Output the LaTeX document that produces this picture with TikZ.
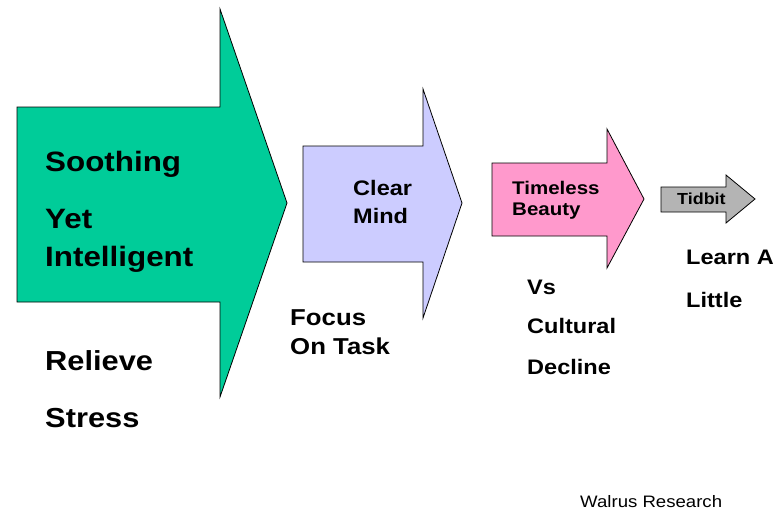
\documentclass[tikz,border=0pt]{standalone}
\usepackage{fontspec}
\setmainfont{Liberation Sans}
\definecolor{arrgreen}{RGB}{0,204,153}
\definecolor{arrlav}{RGB}{204,204,255}
\definecolor{arrpink}{RGB}{255,153,204}
\definecolor{arrgray}{RGB}{180,180,180}
\tikzset{
  arr/.style={draw=black, line width=0.8pt, line join=miter},
  lbl/.style={inner sep=0pt, anchor=base west, xscale=1.12, font=\bfseries\fontsize{#1}{#1}\selectfont},
  lblr/.style={inner sep=0pt, anchor=base west, xscale=1.12, font=\fontsize{#1}{#1}\selectfont}
}
\begin{document}
\begin{tikzpicture}[x=1pt,y=-1pt]
\useasboundingbox (0,0) rectangle (775,509);
% arrows
\draw[arr, fill=arrgreen] (17,107) -- (220,107) -- (220,9) -- (287,203) -- (220,397) -- (220,302) -- (17,302) -- cycle;
\draw[arr, fill=arrlav] (303,146) -- (423,146) -- (423,89) -- (462,203) -- (423,318) -- (423,262) -- (303,262) -- cycle;
\draw[arr, fill=arrpink] (492,163) -- (607,163) -- (607,129) -- (644,199) -- (607,268) -- (607,236) -- (492,236) -- cycle;
\draw[arr, fill=arrgray] (661,187) -- (726,187) -- (726,175) -- (755,199) -- (726,223) -- (726,212) -- (661,212) -- cycle;
% texts
\node[lbl=28] (s1) at (45,171) {Soothing};
\node[lbl=28] (s2) at (45,228) {Yet};
\node[lbl=28] (s3) at (45,266) {Intelligent};
\node[lbl=27.5] (r1) at (45,370) {Relieve};
\node[lbl=27.5] (r2) at (45,427) {Stress};
\node[lbl=21] (c1) at (353,195.5) {Clear};
\node[lbl=21] (c2) at (353,223.5) {Mind};
\node[lbl=23] (f1) at (290,325) {Focus};
\node[lbl=23] (f2) at (290,354) {On Task};
\node[lbl=18.3] (t1) at (512,194.4) {Timeless};
\node[lbl=18.3] (t2) at (512,215.4) {Beauty};
\node[lbl=21] (v1) at (527,294.5) {Vs};
\node[lbl=21] (v2) at (527,333.5) {Cultural};
\node[lbl=21] (v3) at (527,374.5) {Decline};
\node[lbl=16] (tb) at (677,204.6) {Tidbit};
\node[lbl=21] (l1) at (686,264.5) {Learn A};
\node[lbl=21] (l2) at (686,307.5) {Little};
\node[lblr=16.6] (w) at (580,507) {Walrus Research};
\end{tikzpicture}
\end{document}
